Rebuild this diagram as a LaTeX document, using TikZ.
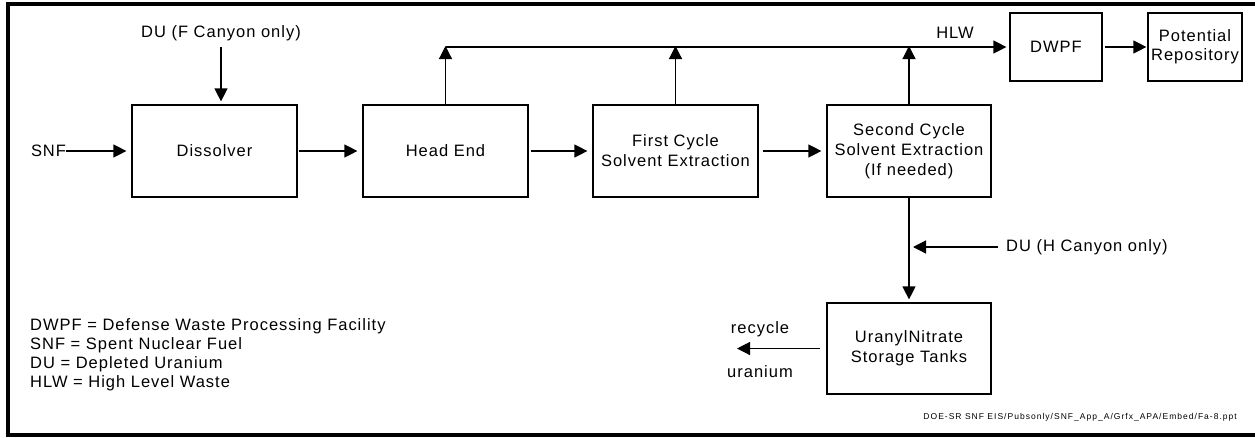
\documentclass[tikz,border=0pt]{standalone}
\usepackage{fontspec}
\setmainfont{Liberation Sans}[LetterSpace=6]
\newfontfamily\footfont{Liberation Sans}[LetterSpace=12]
\usetikzlibrary{arrows.meta}
\begin{document}
\begin{tikzpicture}[x=1pt,y=-1pt,
  proc/.style={draw, line width=1.2pt, inner sep=0pt, align=center,
    font=\fontsize{16.5}{20}\selectfont},
  lbl/.style={inner sep=0pt, font=\fontsize{16.5}{20}\selectfont},
  flow/.style={line width=1.2pt, -{Triangle[length=13pt,width=13pt]}},
  pipe/.style={line width=1.2pt}]
  \useasboundingbox (0,0) rectangle (1255,437);
  % outer frame, open on the right
  \draw[line width=4pt] (8,4) rectangle (1262,435);

  % process blocks
  \node[proc, minimum width=165pt, minimum height=92pt] (dis)    at (214.5,151) {Dissolver};
  \node[proc, minimum width=165pt, minimum height=92pt] (head)   at (445.5,151) {Head End};
  \node[proc, minimum width=165pt, minimum height=92pt] (first)  at (675.5,151) {First Cycle\\Solvent Extraction};
  \node[proc, minimum width=164pt, minimum height=92pt] (second) at (909,151) {Second Cycle\\Solvent Extraction\\(If needed)};
  \node[proc, minimum width=92pt, minimum height=68pt]  (dwpf)   at (1056,47) {DWPF};
  \node[proc, minimum width=94pt, minimum height=68pt, font=\fontsize{16.5}{19}\selectfont] (repo) at (1195,47) {Potential\\Repository};
  \node[proc, minimum width=164pt, minimum height=91pt] (tanks)  at (909,348.5) {Uranyl\hspace{1pt}Nitrate\\Storage Tanks};

  % stream labels
  \node[lbl] (snf) at (48.5,151) {SNF};
  \node[lbl] (duf) at (221,33) {DU (F Canyon only)};
  \node[lbl] (hlw) at (955,33) {HLW};
  \node[lbl, anchor=west] (duh) at (1006,247) {DU (H Canyon only)};
  \node[lbl] (rec) at (760,329) {recycle};
  \node[lbl] (ura) at (760,372) {uranium};
  \coordinate (recend) at (737,348.5);

  % main process line
  \draw[flow, shorten >=5pt] (snf.east) -- (snf.east -| dis.west);
  \draw[flow, shorten <=6pt, shorten >=3pt] (duf.south) -- (duf.south |- dis.north);
  \draw[flow, shorten <=1pt, shorten >=5pt] (dis.east) -- (head.west);
  \draw[flow, shorten <=2pt, shorten >=5pt] (head.east) -- (first.west);
  \draw[flow, shorten <=4pt, shorten >=5pt] (first.east) -- (second.west);

  % high level waste header
  \coordinate (hlwL) at (head.north |- dwpf.west);
  \draw[pipe] (hlwL) -- (first.north |- dwpf.west);
  \draw[flow, shorten >=3pt] (first.north |- dwpf.west) -- (dwpf.west);
  \draw[flow, shorten >=-1pt] (head.north) -- (hlwL);
  \draw[flow, shorten >=-1pt] (first.north) -- (first.north |- dwpf.west);
  \draw[flow, shorten >=-1pt] (second.north) -- (second.north |- dwpf.west);
  \draw[flow, shorten <=2pt, shorten >=1pt] (dwpf.east) -- (repo.west);

  % uranium product line
  \draw[flow, shorten >=3pt] (second.south) -- (tanks.north);
  \draw[flow, shorten <=8pt, shorten >=4pt] (duh.west) -- (duh.west -| second.south);
  \draw[flow, shorten <=6pt] (tanks.west) -- (recend);

  % legend
  \node[inner sep=0pt, anchor=west, align=left,
    font=\fontsize{16.5}{19}\selectfont] (legend) at (30,354.5)
    {DWPF = Defense Waste Processing Facility\\
     SNF = Spent Nuclear Fuel\\
     DU = Depleted Uranium\\
     HLW = High Level Waste};

  % file reference
  \node[inner sep=0pt, anchor=east, font=\footfont\fontsize{8.5}{10}\selectfont] (ref) at (1237,417)
    {DOE-SR SNF EIS/Pubsonly/SNF\_App\_A/Grfx\_APA/Embed/Fa-8.ppt};
\end{tikzpicture}
\end{document}
